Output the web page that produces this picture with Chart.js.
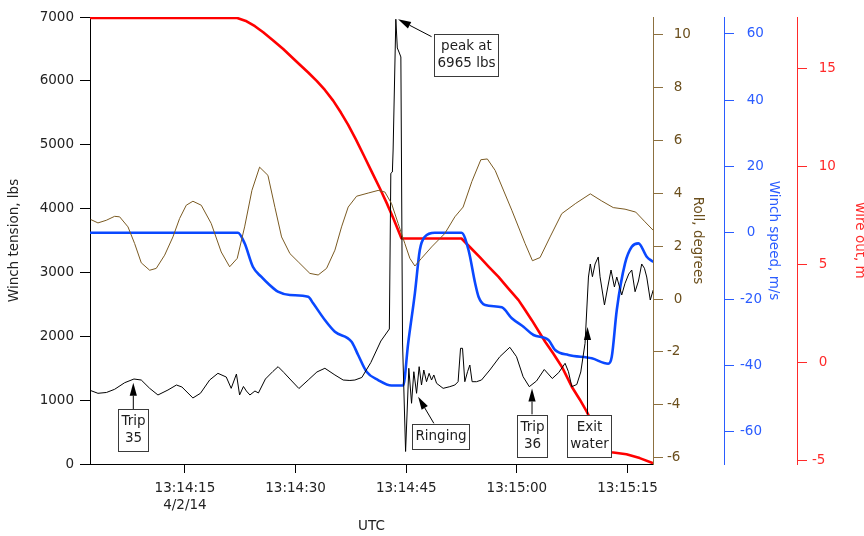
<!DOCTYPE html>
<html>
<head>
<meta charset="utf-8">
<title>Winch tension, roll, winch speed and wire out</title>
<script src="https://cdn.jsdelivr.net/npm/chart.js@4.4.1/dist/chart.umd.min.js"></script>
<style>
  html, body { margin: 0; padding: 0; background: #ffffff; }
  #wrap { width: 864px; height: 536px; }
</style>
</head>
<body>
<div id="wrap"><canvas id="chart" width="864" height="536"></canvas></div>
<script>
// Time is in seconds after 13:14:00 UTC on 4/2/14.

// Winch tension, lbs: [seconds, lbs]
const tension = [
  [2.20,1151],[3.21,1107],[4.36,1120],[5.47,1170],[6.83,1273],[8.09,1331],[9.08,1315],[10.22,1185],
  [11.34,1081],[12.70,1159],[13.85,1237],[14.59,1206],[16.08,1034],[17.10,1107],[18.35,1315],[19.47,1420],
  [20.60,1362],[21.27,1185],[21.98,1409],[22.41,1081],[22.93,1214],[23.33,1143],[23.81,1081],[24.49,1143],
  [24.96,1112],[25.91,1331],[26.92,1449],[27.63,1524],[28.41,1433],[29.23,1331],[30.45,1182],[31.71,1315],
  [32.89,1441],[33.97,1499],[35.33,1394],[36.45,1315],[37.36,1308],[38.04,1315],[38.98,1355],[40.20,1589],
  [41.56,1926],[42.71,2114],[42.91,4552],[43.12,4573],[43.22,4917],[43.59,6965],[43.79,6515],[44.07,6436],
  [44.27,6374],[44.50,1895],[44.91,196],[45.35,1499],[45.72,951],[46.03,1445],[46.40,1107],[46.75,1524],
  [47.07,1237],[47.38,1472],[47.75,1289],[48.10,1420],[48.43,1315],[48.74,1394],[49.11,1264],[50.00,1185],
  [50.91,1211],[51.59,1237],[52.03,1289],[52.36,1812],[52.63,1812],[52.94,1289],[53.31,1445],[53.62,1550],
  [53.93,1289],[54.53,1289],[55.20,1315],[56.33,1472],[57.68,1680],[59.04,1828],[59.95,1680],[60.84,1367],
  [61.68,1211],[62.66,1300],[63.71,1480],[64.80,1339],[65.68,1433],[66.53,1577],[66.99,1445],[67.44,1211],
  [68.12,1245],[68.66,1441],[69.24,1890],[69.70,2928],[69.95,3132],[70.24,2933],[70.60,3132],[71.03,3242],
  [71.27,2933],[71.87,2490],[72.32,2772],[72.76,3038],[73.22,2772],[73.54,2928],[74.21,2647],[74.66,2830],
  [75.16,2975],[75.57,3038],[76.02,2698],[76.48,2866],[76.92,3132],[77.29,3065],[77.60,2928],[78.08,2568],
  [78.48,2725]
];

// Roll, degrees: [seconds, degrees]
const roll = [
  [2.22,3.01],[3.21,2.88],[4.34,2.98],[5.47,3.13],[6.15,3.11],[7.28,2.73],[8.18,2.10],[9.08,1.37],
  [10.22,1.09],[11.11,1.16],[12.25,1.66],[13.37,2.35],[14.28,3.05],[15.18,3.55],[16.08,3.70],[17.21,3.55],
  [18.56,2.86],[19.92,1.78],[21.06,1.22],[22.09,1.54],[23.09,2.73],[24.08,4.11],[25.12,4.99],[26.25,4.68],
  [27.20,3.47],[28.10,2.35],[29.23,1.72],[30.35,1.41],[31.94,0.97],[33.06,0.91],[34.20,1.16],[35.33,1.85],
  [36.23,2.73],[37.13,3.48],[38.27,3.89],[39.84,4.01],[41.19,4.11],[42.10,4.05],[43.01,3.61],[43.90,2.86],
  [44.81,2.10],[45.49,1.54],[46.17,1.25],[47.07,1.54],[48.43,1.97],[50.23,2.48],[51.59,3.11],[52.71,3.48],
  [53.90,4.45],[55.11,5.27],[55.99,5.30],[57.05,4.87],[59.31,3.36],[61.11,2.10],[62.11,1.45],[63.14,1.57],
  [64.50,2.35],[66.08,3.23],[67.98,3.62],[69.95,3.98],[71.50,3.71],[73.06,3.46],[74.66,3.40],[76.11,3.29],
  [77.37,2.92],[78.48,2.60]
];

// Winch speed, m/s: [seconds, m/s]
const winchSpeed = [
  [2.13,0],[22.18,0],[23.09,-3.2],[24.21,-10.25],[25.34,-13.27],[26.48,-15.77],[27.60,-17.79],[29.23,-18.78],
  [31.71,-19.29],[32.38,-21.28],[33.97,-26.32],[35.33,-29.85],[37.59,-32.86],[38.48,-36.87],[39.62,-41.91],
  [41.19,-44.41],[43.00,-46.07],[44.58,-46.07],[45.26,-33.34],[46.17,-18.27],[46.84,-5.22],[47.52,-1.21],
  [48.88,0],[52.49,0],[53.44,-5.22],[54.34,-15.25],[54.80,-19.29],[55.69,-21.80],[57.95,-22.49],[59.31,-25.81],
  [60.89,-28.34],[62.25,-30.84],[64.28,-32.35],[65.18,-35.36],[66.99,-36.87],[70.15,-37.87],[72.38,-39.49],
  [72.86,-37.38],[73.54,-23.30],[74.66,-9.23],[75.57,-4.22],[76.48,-3.20],[77.60,-7.24],[78.48,-8.83]
];

// Wire out, m: [seconds, m]
const wireOut = [
  [2.13,17.55],[22.09,17.55],[23.36,17.38],[24.49,17.13],[25.61,16.82],[26.92,16.42],[28.32,15.97],
  [29.50,15.55],[30.58,15.17],[31.71,14.77],[32.89,14.33],[33.97,13.88],[35.09,13.34],[36.14,12.73],
  [37.13,12.10],[38.17,11.36],[39.25,10.54],[40.33,9.71],[41.42,8.87],[42.37,8.10],[43.22,7.37],
  [44.36,6.31],[52.49,6.31],[53.62,5.88],[54.97,5.36],[56.19,4.87],[57.51,4.36],[58.77,3.80],
  [60.22,3.17],[61.07,2.69],[62.02,2.15],[63.83,1.05],[64.93,0.45],[66.09,-0.22],[67.44,-1.24],
  [68.52,-1.89],[69.47,-2.51],[70.96,-3.65],[72.05,-4.36],[72.82,-4.58],[74.85,-4.68],[76.65,-4.88],
  [78.46,-5.14]
];

// Axis ticks and their labels
const timeTicks = [15, 30, 45, 60, 75];
const timeLabels = [['13:14:15', '4/2/14'], '13:14:30', '13:14:45', '13:15:00', '13:15:15'];
const tensionTicks = [0, 1000, 2000, 3000, 4000, 5000, 6000, 7000];
const rollTicks = [-6, -4, -2, 0, 2, 4, 6, 8, 10];
const speedTicks = [-60, -40, -20, 0, 20, 40, 60];
const wireTicks = [-5, 0, 5, 10, 15];

// Peak tension, taken from the series itself
const peakPoint = tension.reduce((a, b) => (b[1] > a[1] ? b : a));

// Callouts: box centre, arrow tail and arrow tip, all in (seconds, lbs)
const callouts = [
  { lines: ['peak at', peakPoint[1] + ' lbs'], at: [53.10, 6400], tail: [48.43, 6692], tip: [peakPoint[0] + 0.3, peakPoint[1]] },
  { lines: ['Trip', '35'], at: [8.0, 525], tail: [8.0, 857], tip: [8.0, 1273] },
  { lines: ['Ringing'], at: [49.72, 434], tail: [48.74, 637], tip: [46.61, 1054] },
  { lines: ['Trip', '36'], at: [62.05, 446], tail: [62.05, 778], tip: [62.05, 1182] },
  { lines: ['Exit', 'water'], at: [69.84, 446], tail: [69.57, 778], tip: [69.57, 2145] }
];

const FONT = '"DejaVu Sans", "Liberation Sans", sans-serif';
const BROWN = '#7a5a22';
const BROWN_AXIS = '#8c7040';
const BLUE = '#0a48ff';
const BLUE_AXIS = '#2a5cff';
const RED = '#ff0000';
const RED_AXIS = '#ff2a2a';

Chart.defaults.font.family = FONT;
Chart.defaults.font.size = 13.5;
Chart.defaults.font.lineHeight = 1.25;
Chart.defaults.color = '#222222';

const toXY = s => s.map(p => ({ x: p[0], y: p[1] }));

// Right-side labels: negatives hang their minus sign to the left
const hangingLabel = v => (v < 0 ? String(v) : '\u2002' + v);

function axisLines(color, tickLength) {
  return {
    grid: { drawOnChartArea: false, drawTicks: true, tickLength: tickLength, color: color, tickColor: color, lineWidth: 1 },
    border: { display: true, color: color, width: 1 }
  };
}

const calloutPlugin = {
  id: 'callouts',
  afterDatasetsDraw(chart) {
    const { ctx, scales } = chart;
    const xs = scales.x, ys = scales.y;
    const lineStep = 17;
    ctx.save();
    ctx.font = '13.5px ' + FONT;
    callouts.forEach(c => {
      const tx = xs.getPixelForValue(c.tip[0]), ty = ys.getPixelForValue(c.tip[1]);
      const sx = xs.getPixelForValue(c.tail[0]), sy = ys.getPixelForValue(c.tail[1]);
      const ang = Math.atan2(ty - sy, tx - sx);
      const headLen = 13, headHalf = 3.6;
      const bx = tx - Math.cos(ang) * headLen, by = ty - Math.sin(ang) * headLen;
      // arrow shaft
      ctx.strokeStyle = '#000';
      ctx.lineWidth = 1;
      ctx.beginPath();
      ctx.moveTo(sx, sy);
      ctx.lineTo(bx, by);
      ctx.stroke();
      // arrow head
      ctx.fillStyle = '#000';
      ctx.beginPath();
      ctx.moveTo(tx, ty);
      ctx.lineTo(bx + Math.sin(ang) * headHalf, by - Math.cos(ang) * headHalf);
      ctx.lineTo(bx - Math.sin(ang) * headHalf, by + Math.cos(ang) * headHalf);
      ctx.closePath();
      ctx.fill();
      // label box
      const cx = xs.getPixelForValue(c.at[0]), cy = ys.getPixelForValue(c.at[1]);
      const w = Math.max(...c.lines.map(l => ctx.measureText(l).width)) + 6;
      const h = c.lines.length * lineStep + 8;
      const left = Math.round(cx - w / 2) + 0.5, top = Math.round(cy - h / 2) + 0.5;
      ctx.fillStyle = '#ffffff';
      ctx.fillRect(left, top, Math.round(w), h);
      ctx.strokeStyle = '#3a3a3a';
      ctx.strokeRect(left, top, Math.round(w), h);
      ctx.fillStyle = '#1e1e1e';
      ctx.textAlign = 'center';
      ctx.textBaseline = 'middle';
      c.lines.forEach((l, i) => {
        ctx.fillText(l, left + Math.round(w) / 2, cy + (i - (c.lines.length - 1) / 2) * lineStep);
      });
    });
    ctx.restore();
  }
};

new Chart(document.getElementById('chart'), {
  type: 'line',
  data: {
    datasets: [
      { label: 'Roll, degrees', data: toXY(roll), yAxisID: 'roll', borderColor: BROWN, borderWidth: 1 },
      { label: 'Winch tension, lbs', data: toXY(tension), yAxisID: 'y', borderColor: '#000000', borderWidth: 1 },
      { label: 'Winch speed, m/s', data: toXY(winchSpeed), yAxisID: 'speed', borderColor: BLUE, borderWidth: 2.6, cubicInterpolationMode: 'monotone' },
      { label: 'wire out, m', data: toXY(wireOut), yAxisID: 'wire', borderColor: RED, borderWidth: 2.6 }
    ]
  },
  options: {
    responsive: false,
    devicePixelRatio: 1,
    animation: false,
    events: [],
    parsing: false,
    layout: { padding: { top: 17, left: 0, right: 0, bottom: 0 } },
    elements: {
      point: { radius: 0 },
      line: { tension: 0, fill: false, borderJoinStyle: 'round', borderCapStyle: 'butt' }
    },
    plugins: { legend: { display: false }, tooltip: { enabled: false }, title: { display: false } },
    scales: {
      x: {
        type: 'linear',
        position: 'bottom',
        min: 2.13,
        max: 78.45,
        afterBuildTicks: s => { s.ticks = timeTicks.map(v => ({ value: v })); },
        afterFit: s => { s.height = 72; },
        ticks: {
          autoSkip: false, maxRotation: 0, padding: 7.25, color: '#222222',
          callback: v => timeLabels[timeTicks.indexOf(v)]
        },
        ...axisLines('#000000', 9),
        title: { display: true, text: 'UTC', color: '#222222', padding: { top: 0, bottom: 1 } }
      },
      y: {
        type: 'linear',
        position: 'left',
        min: 0,
        max: 7000,
        afterBuildTicks: s => { s.ticks = tensionTicks.map(v => ({ value: v })); },
        afterFit: s => { s.width = 90; },
        ticks: { padding: 6, color: '#222222', callback: v => String(v) },
        ...axisLines('#000000', 10),
        title: { display: true, text: 'Winch tension, lbs', color: '#222222', padding: { top: 6.15, bottom: 0 } }
      },
      roll: {
        type: 'linear',
        position: 'right',
        weight: 1,
        min: -6.24,
        max: 10.67,
        afterBuildTicks: s => { s.ticks = rollTicks.map(v => ({ value: v })); },
        afterFit: s => { s.width = 71; },
        ticks: { padding: 4, color: '#6b4f1d', callback: hangingLabel },
        ...axisLines(BROWN_AXIS, 10),
        title: { display: true, text: 'Roll, degrees', color: '#6b4f1d', padding: { top: 17.85, bottom: 0 } }
      },
      speed: {
        type: 'linear',
        position: 'right',
        weight: 2,
        min: -69.73,
        max: 65.04,
        afterBuildTicks: s => { s.ticks = speedTicks.map(v => ({ value: v })); },
        afterFit: s => { s.width = 73; },
        ticks: { padding: 6, color: BLUE_AXIS, callback: hangingLabel },
        ...axisLines(BLUE_AXIS, 10),
        title: { display: true, text: 'Winch speed, m/s', color: BLUE_AXIS, padding: { top: 15.2, bottom: 0 } }
      },
      wire: {
        type: 'linear',
        position: 'right',
        weight: 3,
        min: -5.18,
        max: 17.6,
        afterBuildTicks: s => { s.ticks = wireTicks.map(v => ({ value: v })); },
        afterFit: s => { s.width = 67; },
        ticks: { padding: 5, color: RED_AXIS, callback: hangingLabel },
        ...axisLines(RED_AXIS, 10),
        title: { display: true, text: 'wire out, m', color: RED_AXIS, padding: { top: -4.15, bottom: 0 } }
      }
    }
  },
  plugins: [calloutPlugin]
});
</script>
</body>
</html>
